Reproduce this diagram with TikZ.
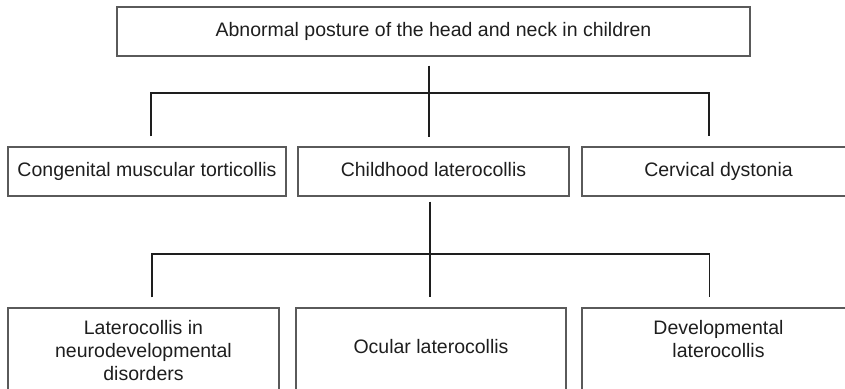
\documentclass[tikz,border=0pt]{standalone}
\usepackage{fontspec}
\setmainfont{Liberation Sans}
\usetikzlibrary{positioning}
\definecolor{boxline}{HTML}{5A5A5A}
\definecolor{ink}{HTML}{1E1E1E}

\begin{document}
\begin{tikzpicture}[x=1pt,y=-1pt,
  box/.style={draw=boxline,line width=1.1pt,minimum height=49pt,inner sep=0pt,text height=14pt,text depth=5pt,font=\fontsize{19.5}{23}\selectfont,text=ink},
  tallbox/.style={draw=boxline,line width=1.1pt,minimum height=90pt,inner sep=0pt},
  tag/.style={align=center,inner sep=0pt,font=\fontsize{19.5}{23}\selectfont,text=ink},
  link/.style={draw=ink,line width=1.1pt},
]
  \useasboundingbox (0,0) rectangle (845,388);

  % top level
  \node[box,minimum width=633pt] (head) at (433.5,31.5) {Abnormal posture of the head and neck in children};

  % second level
  \node[box,minimum width=278pt] (congenital) at (147,171.5) {Congenital muscular torticollis};
  \node[box,minimum width=271pt] (childhood) at (433.5,171.5) {Childhood laterocollis};
  \node[box,minimum width=273pt] (cervical) at (718.5,171.5) {Cervical dystonia};

  % third level, boxes run past the bottom edge
  \node[tallbox,minimum width=271pt] (neuro) at (143.5,353) {};
  \node[tallbox,minimum width=270pt] (ocular) at (431,353) {};
  \node[tallbox,minimum width=273pt] (develop) at (718.5,353) {};
  \node[tag,below=12.5pt of neuro.north] (neurotext) {Laterocollis in\\neurodevelopmental\\disorders};
  \node[tag,below=32pt of ocular.north] (oculartext) {Ocular laterocollis};
  \node[tag,below=12.5pt of develop.north] (developtext) {Developmental\\laterocollis};

  % connectors
  \coordinate (hubA) at (429,93);
  \coordinate (hubB) at (430,254);
  \coordinate (leftA) at (151,93);
  \coordinate (rightA) at (709,93);
  \coordinate (leftB) at (152,254);
  \coordinate (rightB) at (709.5,254);

  \draw[link] ([yshift=-9pt]head.south -| hubA) -- ([yshift=9pt]childhood.north -| hubA);
  \draw[link] ([yshift=10pt]congenital.north -| leftA) -- (leftA) -- (rightA) -- ([yshift=10pt]cervical.north -| rightA);

  \draw[link] ([yshift=-5pt]childhood.south -| hubB) -- ([yshift=10pt]ocular.north -| hubB);
  \draw[link] ([yshift=10pt]neuro.north -| leftB) -- (leftB) -- (rightB) -- ([yshift=10pt]develop.north -| rightB);
\end{tikzpicture}
\end{document}
